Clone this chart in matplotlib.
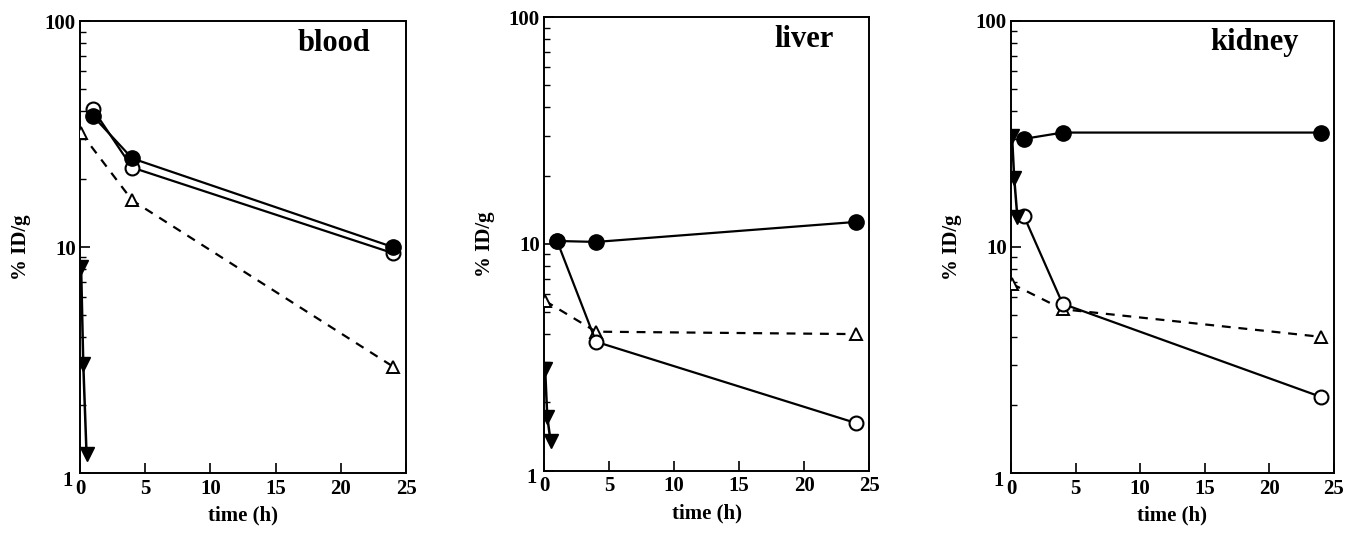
import numpy as np
import matplotlib.pyplot as plt
import matplotlib.transforms as mtransforms
from matplotlib.ticker import LogLocator, NullFormatter, FixedFormatter, FixedLocator

plt.rcParams['font.family'] = ['Liberation Serif', 'DejaVu Serif']
plt.rcParams['font.weight'] = 'bold'

organs = ["blood", "liver", "kidney"]

# filled circles
t_fill = [1, 4, 24]
fill_vals = {
    "blood": [38, 24.7, 10.0],
    "liver": [10.3, 10.2, 12.5],
    "kidney": [30, 32, 32],
}
# open circles
t_open = [1, 4, 24]
open_vals = {
    "blood": [40.7, 22.5, 9.4],
    "liver": [10.3, 3.7, 1.62],
    "kidney": [13.7, 5.6, 2.17],
}
# open triangles (dashed)
t_tri = [0.083, 4, 24]
tri_vals = {
    "blood": [32, 16.1, 2.96],
    "liver": [5.6, 4.1, 4.0],
    "kidney": [6.85, 5.3, 4.0],
}
# filled down triangles
t_down = [0.083, 0.25, 0.5]
down_vals = {
    "blood": [8.2, 3.05, 1.22],
    "liver": [2.8, 1.72, 1.35],
    "kidney": [31, 20.2, 13.5],
}

positions = [
    [0.0593, 0.1175, 0.2417, 0.843],
    [0.4033, 0.1220, 0.2410, 0.846],
    [0.7494, 0.1175, 0.2394, 0.844],
]

fig = plt.figure(figsize=(13.49, 5.36), dpi=100)

for organ, pos in zip(organs, positions):
    ax = fig.add_axes(pos)
    ax.set_yscale('log')
    ax.set_xlim(0, 25)
    ax.set_ylim(1, 100)

    ax.plot(t_tri, tri_vals[organ], color='black', lw=1.6, ls=(0, (4, 3.5)),
            marker='^', ms=9, mfc='white', mec='black', mew=1.4, zorder=3)
    ax.plot(t_open, open_vals[organ], color='black', lw=1.6,
            marker='o', ms=10, mfc='white', mec='black', mew=1.5, zorder=4)
    ax.plot(t_fill, fill_vals[organ], color='black', lw=1.6,
            marker='o', ms=11, mfc='black', mec='black', zorder=5)
    ax.plot(t_down, down_vals[organ], color='black', lw=1.8,
            marker='v', ms=10, mfc='black', mec='black', zorder=6)

    ax.text(0.89, 0.935, organ, transform=ax.transAxes, ha='right', va='baseline',
            fontsize=22, fontweight='bold')

    ax.yaxis.set_major_locator(FixedLocator([1, 10, 100]))
    ax.yaxis.set_major_formatter(FixedFormatter(['1', '10', '100']))
    ax.yaxis.set_minor_locator(LogLocator(base=10, subs=np.arange(2, 10)))
    ax.yaxis.set_minor_formatter(NullFormatter())
    ax.set_xticks([0, 5, 10, 15, 20, 25])

    ax.tick_params(axis='both', which='major', direction='in', length=7, width=1.2,
                   labelsize=15, top=False, right=False)
    ax.tick_params(axis='y', which='minor', direction='in', length=4, width=1.0,
                   right=False)
    ax.tick_params(axis='x', which='major', pad=4)
    ax.tick_params(axis='y', which='major', pad=3)
    for lab in ax.get_xticklabels() + ax.get_yticklabels():
        lab.set_fontweight('bold')
    # the "1" label sits a little lower-left in the original
    ylabs = ax.get_yticklabels()
    ylabs[0].set_transform(ylabs[0].get_transform() +
                           mtransforms.ScaledTranslation(-0.03, -0.05, fig.dpi_scale_trans))
    for sp in ax.spines.values():
        sp.set_linewidth(1.4)

    ax.set_xlabel('time (h)', fontsize=15, fontweight='bold', labelpad=5)
    ax.set_ylabel('% ID/g', fontsize=15, fontweight='bold', labelpad=10)

fig.savefig('out.png', dpi=100)
